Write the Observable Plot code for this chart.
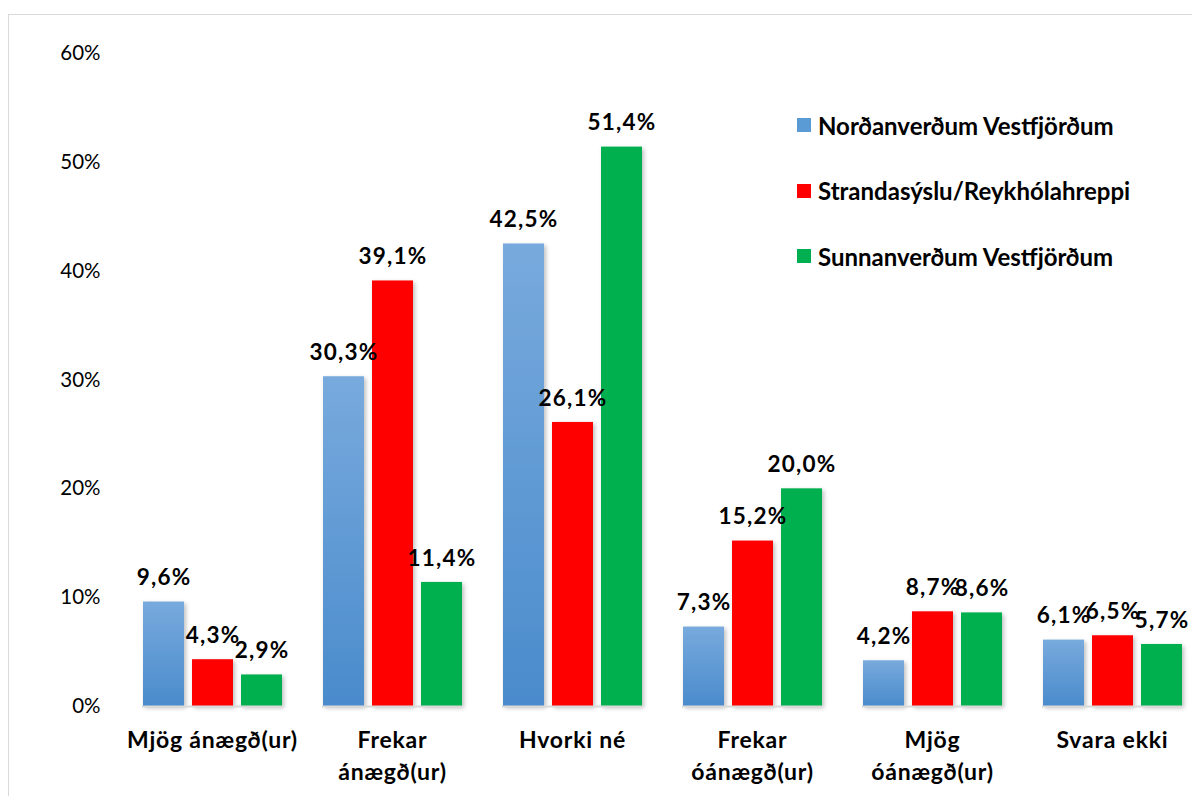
<!DOCTYPE html>
<html>
<head>
<meta charset="utf-8">
<script src="https://cdn.jsdelivr.net/npm/d3@7"></script>
<script src="https://cdn.jsdelivr.net/npm/@observablehq/plot@0.6"></script>
<style>
  html, body { margin: 0; padding: 0; background: #fff; }
  #wrap { position: relative; width: 1192px; height: 796px; overflow: hidden; font-family: Lato, "Open Sans", sans-serif; }
  #border { position: absolute; left: 8px; top: 14px; width: 1300px; height: 900px; border: 1px solid #d9d9d9; box-sizing: border-box; }
  #chart { position: absolute; left: 0; top: 0; }
  #legend { position: absolute; left: 797px; top: 110px; }
  .item { display: flex; align-items: center; height: 30px; margin-bottom: 35.5px; font-weight: bold; font-size: 24px; color: #000; white-space: nowrap; }
  .sw { width: 14px; height: 14px; margin-right: 7px; }
  .barlab text { letter-spacing: 1.2px; }
  .catlab text { letter-spacing: 0.8px; }
</style>
</head>
<body>
<div id="wrap">
  <div id="border"></div>
  <div id="chart"></div>
  <div id="legend"></div>
</div>
<script>
const categories = ["Mjög ánægð(ur)", "Frekar\nánægð(ur)", "Hvorki né", "Frekar\nóánægð(ur)", "Mjög\nóánægð(ur)", "Svara ekki"];
const series = ["Norðanverðum Vestfjörðum", "Strandasýslu/Reykhólahreppi", "Sunnanverðum Vestfjörðum"];
const nordan = [9.6, 30.3, 42.5, 7.3, 4.2, 6.1];
const stranda = [4.3, 39.1, 26.1, 15.2, 8.7, 6.5];
const sunnan = [2.9, 11.4, 51.4, 20.0, 8.6, 5.7];
const yTicks = [0, 10, 20, 30, 40, 50, 60];

const seriesValues = [nordan, stranda, sunnan];
const fills = ["url(#blueGrad)", "#ff0000", "#00b050"];
const swatches = ["#5b9bd5", "#ff0000", "#00b050"];

const data = [];
categories.forEach((c, i) => {
  series.forEach((s, j) => {
    data.push({category: c, series: s, value: seriesValues[j][i], fill: fills[j]});
  });
});

const fmt = v => v.toFixed(1).replace(".", ",") + "%";

const defs = () => {
  const d = d3.create("svg:defs");
  const g = d.append("linearGradient").attr("id", "blueGrad").attr("x1", 0).attr("y1", 0).attr("x2", 0).attr("y2", 1);
  g.append("stop").attr("offset", "0%").attr("stop-color", "#78aadd");
  g.append("stop").attr("offset", "100%").attr("stop-color", "#4a8bcc");
  const f = d.append("filter").attr("id", "shadow").attr("x", "-20%").attr("y", "-5%").attr("width", "150%").attr("height", "120%");
  f.append("feDropShadow").attr("dx", 2).attr("dy", 2).attr("stdDeviation", 2).attr("flood-color", "#000").attr("flood-opacity", 0.25);
  return d.node();
};

const plot = Plot.plot({
  width: 1192,
  height: 796,
  marginTop: 53,
  marginBottom: 90,
  marginLeft: 122,
  marginRight: 0,
  style: {fontFamily: "Lato, 'Open Sans', sans-serif", color: "#000", background: "transparent"},
  fx: {domain: categories, range: [122, 1202], paddingInner: 0.222, paddingOuter: 0.111, axis: null},
  x: {domain: series, paddingInner: 0.172, paddingOuter: 0, axis: null},
  y: {domain: [0, 60], axis: null},
  color: {type: "identity"},
  marks: [
    defs,
    Plot.axisY({ticks: yTicks, tickFormat: d => d + "%", tickSize: 0, label: null, dx: -33, fontSize: 20.5, fill: "#000"}),
    Plot.barY(data, {fx: "category", x: "series", y: "value", fill: "fill"}),
    Plot.ruleY([0], {stroke: "#d9d9d9", strokeWidth: 2}),
    Plot.text(data, {fx: "category", x: "series", y: "value", text: d => fmt(d.value), dy: -24, fontSize: 22.5, fontWeight: "bold", fill: "#000", className: "barlab"}),
    Plot.text(categories, {fx: d => d, text: d => d, frameAnchor: "bottom", lineAnchor: "top", dy: 19, lineHeight: 1.38, fontSize: 23, fontWeight: "bold", fill: "#000", className: "catlab"})
  ]
});

d3.select(plot).selectAll("g[aria-label='bar'] rect").attr("filter", "url(#shadow)");
document.getElementById("chart").appendChild(plot);

const legend = document.getElementById("legend");
series.forEach((s, j) => {
  const row = document.createElement("div");
  row.className = "item";
  const sw = document.createElement("div");
  sw.className = "sw";
  sw.style.background = swatches[j];
  const t = document.createElement("span");
  t.textContent = s;
  row.appendChild(sw);
  row.appendChild(t);
  legend.appendChild(row);
});
</script>
</body>
</html>
